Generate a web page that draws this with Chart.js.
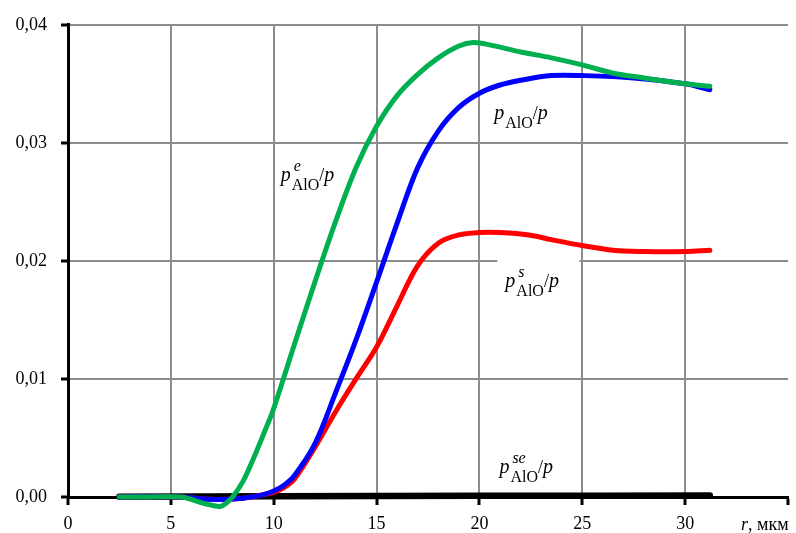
<!DOCTYPE html>
<html>
<head>
<meta charset="utf-8">
<script src="https://cdn.jsdelivr.net/npm/chart.js@4"></script>
<style>
body { margin: 0; background: #fff; }
#wrap { width: 796px; height: 533px; position: relative; }
</style>
</head>
<body>
<div id="wrap"><canvas id="myChart"></canvas></div>
<script>
// p^e_AlO / p (green)
const rGreen = [2.5, 4, 5.5, 6, 6.5, 7, 7.4, 7.7, 8, 8.5, 9, 9.5, 10, 11, 12, 13, 14, 15, 16, 17, 18, 19, 19.7, 20.5, 22, 23.5, 25, 26.5, 28, 30, 31.2];
const pGreen = [0, 0, 0, -0.0002, -0.0005, -0.0007, -0.0008, -0.0005, 0, 0.0013, 0.0032, 0.0053, 0.0075, 0.0129, 0.0182, 0.0233, 0.0279, 0.0314, 0.0340, 0.0358, 0.0372, 0.0382, 0.0385, 0.0383, 0.0377, 0.0372, 0.0366, 0.0359, 0.0355, 0.0350, 0.0348];
// p_AlO / p (blue)
const rBlue = [2.5, 5.5, 7, 8.5, 9.5, 10, 10.5, 11, 12, 13, 14, 15, 16, 17, 18, 19, 20, 21, 22, 23.5, 25, 27.5, 30, 31.2];
const pBlue = [0, 0, -0.0002, -0.0001, 0.0002, 0.0005, 0.001, 0.0018, 0.0045, 0.0088, 0.0133, 0.0182, 0.0232, 0.0279, 0.0310, 0.0330, 0.0342, 0.0349, 0.0353, 0.0357, 0.0357, 0.0355, 0.0350, 0.0345];
// p^s_AlO / p (red)
const rRed = [2.5, 5.5, 7, 8.5, 9.5, 10, 10.5, 11, 12, 13, 14, 15, 16, 17, 18, 19, 20, 21, 22.4, 23.5, 25, 26.5, 28, 30, 31.2];
const pRed = [0, 0, -0.0002, -0.0001, 0.0002, 0.0004, 0.0008, 0.0015, 0.0042, 0.0072, 0.0100, 0.0127, 0.0162, 0.0196, 0.0215, 0.0222, 0.0224, 0.0224, 0.0222, 0.0218, 0.0213, 0.0209, 0.0208, 0.0208, 0.0209];
// p^se_AlO / p (black)
const rBlack = [2.5, 10, 20, 31.2];
const pBlack = [0.00003, 0.00006, 0.0001, 0.00012];

const xTicks = [0, 5, 10, 15, 20, 25, 30];
const yTicks = [0, 0.01, 0.02, 0.03, 0.04];

// curve labels: where the text starts, in data units
const curveLabels = [
    { r: 10.34, p: 0.0268, sup: 'e', box: false },
    { r: 20.72, p: 0.0320, sup: '', box: false },
    { r: 21.26, p: 0.0178, sup: 's', box: true },
    { r: 20.97, p: 0.0020, sup: 'se', box: false }
];

function pts(rs, ps) {
    return rs.map((r, i) => ({ x: r, y: ps[i] }));
}

const serif = "'Liberation Serif', 'Times New Roman', serif";

const labelPlugin = {
    id: 'curveLabels',
    afterDatasetsDraw(chart) {
        const ctx = chart.ctx;
        const xs = chart.scales.x, ys = chart.scales.y;
        ctx.save();
        ctx.textBaseline = 'alphabetic';
        ctx.textAlign = 'left';
        curveLabels.forEach(lb => {
            const x0 = xs.getPixelForValue(lb.r);
            const y0 = ys.getPixelForValue(lb.p);
            if (lb.box) {
                ctx.fillStyle = '#fff';
                ctx.fillRect(x0 - 8, y0 - 30, 82, 45);
            }
            ctx.fillStyle = '#000';
            let x = x0;
            ctx.font = 'italic 20px ' + serif;
            ctx.fillText('p', x, y0);
            x += ctx.measureText('p').width + 1;
            let w1 = 0;
            if (lb.sup) {
                ctx.font = 'italic 16px ' + serif;
                ctx.fillText(lb.sup, x + 2, y0 - 10);
                w1 = ctx.measureText(lb.sup).width + 2;
            }
            ctx.font = '16px ' + serif;
            ctx.fillText('AlO', x, y0 + 9);
            const w2 = ctx.measureText('AlO').width;
            x += Math.max(w1, w2);
            ctx.font = '18px ' + serif;
            ctx.fillText('/', x, y0);
            x += ctx.measureText('/').width;
            ctx.font = 'italic 20px ' + serif;
            ctx.fillText('p', x, y0);
        });
        // axis title
        const ty = 530;
        ctx.font = 'italic 18px ' + serif;
        ctx.fillText('r', 741, ty);
        const rw = ctx.measureText('r').width;
        ctx.font = '18px ' + serif;
        ctx.fillText(', мкм', 741 + rw, ty);
        ctx.restore();
    }
};

const myChart = document.getElementById('myChart').getContext('2d');
const chart = new Chart(myChart, {
    type: 'line',
    data: {
        datasets: [
            { data: pts(rBlack, pBlack), borderColor: '#000', borderWidth: 6.5, order: 4 },
            { data: pts(rRed, pRed), borderColor: '#ff0000', borderWidth: 5, order: 3 },
            { data: pts(rBlue, pBlue), borderColor: '#0000ff', borderWidth: 5, order: 2 },
            { data: pts(rGreen, pGreen), borderColor: '#00b050', borderWidth: 5, order: 1 }
        ]
    },
    options: {
        responsive: true,
        maintainAspectRatio: false,
        animation: false,
        events: [],
        layout: { autoPadding: false, padding: { top: 21, right: 4, left: 0, bottom: 0 } },
        elements: {
            point: { radius: 0 },
            line: { tension: 0.35, borderCapStyle: 'round', borderJoinStyle: 'round', fill: false }
        },
        datasets: { line: { clip: false } },
        plugins: { legend: { display: false }, tooltip: { enabled: false } },
        scales: {
            x: {
                type: 'linear',
                min: 0,
                max: 35,
                afterFit: s => { s.height = 36; },
                afterBuildTicks: s => { s.ticks = xTicks.concat([35]).map(v => ({ value: v })); },
                ticks: {
                    font: { family: serif, size: 18 },
                    color: '#000',
                    padding: 8,
                    maxRotation: 0,
                    autoSkip: false,
                    callback: v => (v === 35 ? '' : String(v))
                },
                grid: {
                    color: c => (c.tick && c.tick.value === 35 ? 'rgba(0,0,0,0)' : '#8c8c8c'),
                    lineWidth: 2,
                    tickColor: '#000',
                    tickWidth: 3,
                    tickLength: 8
                },
                border: { color: '#000', width: 3 }
            },
            y: {
                min: 0,
                max: 0.04,
                afterFit: s => { s.width = 68; },
                afterBuildTicks: s => { s.ticks = yTicks.map(v => ({ value: v })); },
                ticks: {
                    font: { family: serif, size: 18 },
                    color: '#000',
                    padding: 14,
                    callback: v => v.toFixed(2).replace('.', ',')
                },
                grid: {
                    color: '#8c8c8c',
                    lineWidth: 2,
                    tickColor: '#000',
                    tickWidth: 3,
                    tickLength: 7
                },
                border: { color: '#000', width: 3 }
            }
        }
    },
    plugins: [labelPlugin]
});
</script>
</body>
</html>
